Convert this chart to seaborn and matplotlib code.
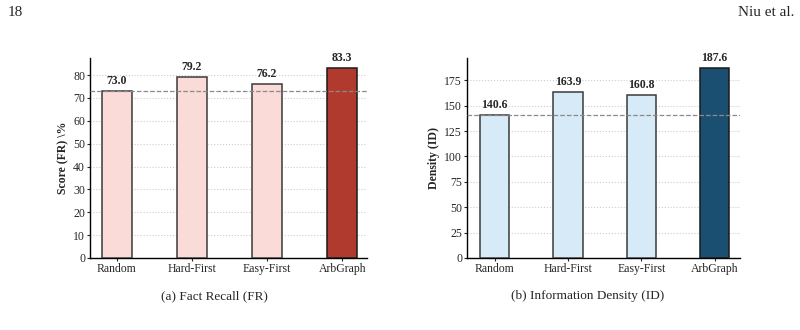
import matplotlib
matplotlib.use("Agg")
import matplotlib.pyplot as plt
import seaborn as sns
import pandas as pd

sns.set_style("white")
plt.rcParams["font.family"] = ["Liberation Serif", "DejaVu Serif"]

categories = ["Random", "Hard-First", "Easy-First", "ArbGraph"]
fr_values = [73.0, 79.2, 76.2, 83.3]
id_values = [140.6, 163.9, 160.8, 187.6]
fr_colors = ["#FADBD8", "#FADBD8", "#FADBD8", "#B03A2E"]
id_colors = ["#D6EAF8", "#D6EAF8", "#D6EAF8", "#1B4F72"]
fr_ylabel = r"Score (FR) \%"
id_ylabel = "Density (ID)"
captions = ["(a) Fact Recall (FR)", "(b) Information Density (ID)"]

fig = plt.figure(figsize=(8, 3.3), dpi=100)
ax1 = fig.add_axes([90 / 800, 72 / 330, 277 / 800, 200 / 330])
ax2 = fig.add_axes([467 / 800, 72 / 330, 273 / 800, 200 / 330])

def draw(ax, values, colors, ylabel, ticks, xlim):
    df = pd.DataFrame({"cat": categories, "val": values})
    sns.barplot(data=df, x="cat", y="val", hue="cat", palette=colors,
                saturation=1, legend=False, dodge=False, width=0.4, ax=ax,
                edgecolor="#1a1a1a", linewidth=1.1, zorder=3)
    for i, p in enumerate(ax.patches):
        if i < 3:
            p.set_edgecolor("#3a3a3a")
    ymax = max(values) * 1.05
    ax.set_ylim(0, ymax)
    ax.set_xlim(*xlim)
    ax.set_yticks(ticks)
    ax.axhline(values[0], color="#8a8a8a", ls="--", lw=0.9, zorder=4)
    ax.yaxis.grid(True, ls=":", color="#cccccc", lw=0.8, zorder=0)
    ax.set_axisbelow(True)
    for i, v in enumerate(values):
        ax.text(i, v + ymax * 0.02, f"{v:.1f}", ha="center", va="bottom",
                fontsize=8.5, fontweight="bold")
    ax.set_xlabel("")
    ax.set_ylabel(ylabel, fontsize=8.5, fontweight="bold", labelpad=3)
    ax.tick_params(axis="both", labelsize=8.5, length=2.5, width=0.8,
                   direction="out", bottom=True, left=True, pad=1)
    for s in ["top", "right"]:
        ax.spines[s].set_visible(False)
    for s in ["left", "bottom"]:
        ax.spines[s].set_color("black")
        ax.spines[s].set_linewidth(1.0)

draw(ax1, fr_values, fr_colors, fr_ylabel, [0, 10, 20, 30, 40, 50, 60, 70, 80], (-0.356, 3.33))
draw(ax2, id_values, id_colors, id_ylabel, [0, 25, 50, 75, 100, 125, 150, 175], (-0.377, 3.345))

fig.text(214 / 800, 1 - 296 / 330, captions[0], ha="center", va="center", fontsize=9.5)
fig.text(588 / 800, 1 - 296 / 330, captions[1], ha="center", va="center", fontsize=9.5)
fig.text(8 / 800, 1 - 12 / 330, "18", ha="left", va="center", fontsize=11)
fig.text(794 / 800, 1 - 12 / 330, "Niu et al.", ha="right", va="center", fontsize=11)

fig.savefig("out.png", dpi=100)
